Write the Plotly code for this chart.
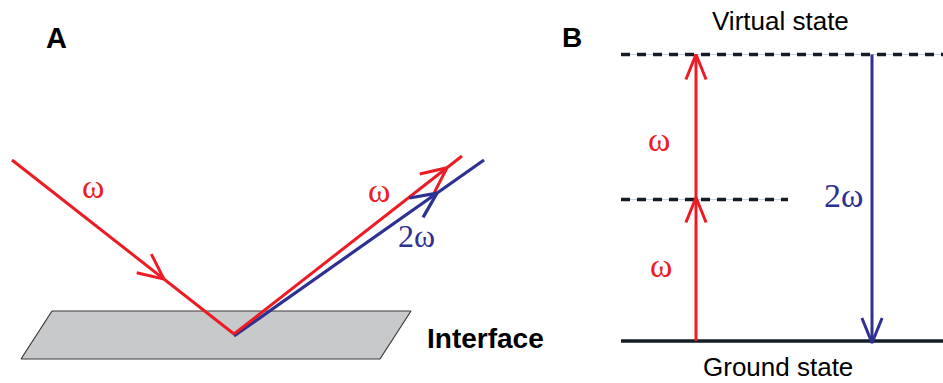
import numpy as np
import plotly.graph_objects as go

W, H = 943, 383
RED = "#ed1c24"
BLUE = "#2e3192"
DARK = "#141c28"

# ---------- Panel A: reflection geometry (pixel space) ----------
incident_x = [12, 234]
incident_y = [160, 334]
refl_omega_x = [234, 462]
refl_omega_y = [334, 156]
refl_2omega_x = [234, 484]
refl_2omega_y = [336, 160]
interface_x = [52, 411, 380, 21, 52]
interface_y = [311, 311, 359, 359, 311]
# arrow tip x-positions along each ray
incident_tip_x = 164
refl_omega_tip_x = 447
refl_2omega_tip_x = 437

# ---------- Panel B: energy levels ----------
level_names = ["Ground state", "intermediate", "Virtual state"]
level_y = [341, 199.5, 54.5]
level_x0 = [621, 621, 621]
level_x1 = [943, 788, 943]
pump_x = 696
emission_x = 872

fig = go.Figure()


def seg(x, y, color, width, dash="solid"):
    fig.add_trace(go.Scatter(x=x, y=y, mode="lines",
                             line=dict(color=color, width=width, dash=dash),
                             hoverinfo="skip"))


def open_arrow(tip, direction, color, width, length=28, angle=25):
    d = np.array(direction, float)
    d = d / np.linalg.norm(d)
    back = -d
    pts = []
    for s in (1, -1):
        a = np.radians(angle * s)
        r = np.array([[np.cos(a), -np.sin(a)], [np.sin(a), np.cos(a)]])
        pts.append(np.array(tip) + length * r @ back)
    xs = [pts[0][0], tip[0], pts[1][0]]
    ys = [pts[0][1], tip[1], pts[1][1]]
    seg(xs, ys, color, width)


def point_on(xs, ys, x):
    t = (x - xs[0]) / (xs[1] - xs[0])
    return (x, ys[0] + t * (ys[1] - ys[0]))


# interface plane
fig.add_trace(go.Scatter(x=interface_x, y=interface_y, mode="lines", fill="toself",
                         fillcolor="#c8c9cb", line=dict(color="#3a3a3a", width=1.2),
                         hoverinfo="skip"))

# rays
seg(incident_x, incident_y, RED, 3)
seg(refl_2omega_x, refl_2omega_y, BLUE, 3.2)
seg(refl_omega_x, refl_omega_y, RED, 3)

open_arrow(point_on(incident_x, incident_y, incident_tip_x),
           (incident_x[1] - incident_x[0], incident_y[1] - incident_y[0]), RED, 3)
open_arrow(point_on(refl_omega_x, refl_omega_y, refl_omega_tip_x),
           (refl_omega_x[1] - refl_omega_x[0], refl_omega_y[1] - refl_omega_y[0]), RED, 3)
open_arrow(point_on(refl_2omega_x, refl_2omega_y, refl_2omega_tip_x),
           (refl_2omega_x[1] - refl_2omega_x[0], refl_2omega_y[1] - refl_2omega_y[0]), BLUE, 3.2)

# energy levels
for name, y, x0, x1 in zip(level_names, level_y, level_x0, level_x1):
    if name == "Ground state":
        seg([x0, x1], [y, y], DARK, 3.5)
    else:
        seg([x0, x1], [y, y], "#c3ccd8", 1)
        seg([x0, x1], [y, y], DARK, 3.4, dash="9px,7px")

# pump arrows (red) and emission (blue)
seg([pump_x, pump_x], [level_y[0], level_y[1]], RED, 3)
open_arrow((pump_x, level_y[1] - 2), (0, -1), RED, 3, length=27, angle=22)
seg([pump_x, pump_x], [level_y[1], level_y[2]], RED, 3)
open_arrow((pump_x, level_y[2]), (0, -1), RED, 3, length=27, angle=22)
seg([emission_x, emission_x], [level_y[2], level_y[0] + 2], BLUE, 3)
open_arrow((emission_x, level_y[0] + 2), (0, 1), BLUE, 3, length=27, angle=22)

SANS = "Liberation Sans, Arial, sans-serif"
SERIF = "Liberation Serif, Times New Roman, serif"


def label(x, y, text, size, color="#000000", family=SANS, bold=False, yanchor="middle"):
    t = f"<b>{text}</b>" if bold else text
    fig.add_annotation(x=x, y=y, text=t, showarrow=False, xanchor="center", yanchor=yanchor,
                       borderpad=0, font=dict(size=size, color=color, family=family))


label(56, 38, "A", 29, bold=True)
label(572, 37, "B", 28, bold=True)
label(485, 338, "Interface", 28, bold=True)
label(93, 186, "ω", 34, RED, SERIF)
label(379, 190, "ω", 34, RED, SERIF)
label(416, 236, "2ω", 32, BLUE, SERIF)
label(780, 21, "Virtual state", 26)
label(778, 382.5, "Ground state", 26, yanchor="bottom")
label(659, 139, "ω", 34, RED, SERIF)
label(661, 265, "ω", 34, RED, SERIF)
label(843, 195, "2ω", 34, BLUE, SERIF)

fig.update_layout(
    width=W, height=H,
    margin=dict(l=0, r=0, t=0, b=0),
    paper_bgcolor="white", plot_bgcolor="white",
    showlegend=False,
    xaxis=dict(range=[0, W], visible=False, fixedrange=True),
    yaxis=dict(range=[H, 0], visible=False, fixedrange=True),
)

fig.write_html("out.html", config={"displayModeBar": False},
               post_script="document.body.style.margin='0';document.body.style.overflow='hidden';")
